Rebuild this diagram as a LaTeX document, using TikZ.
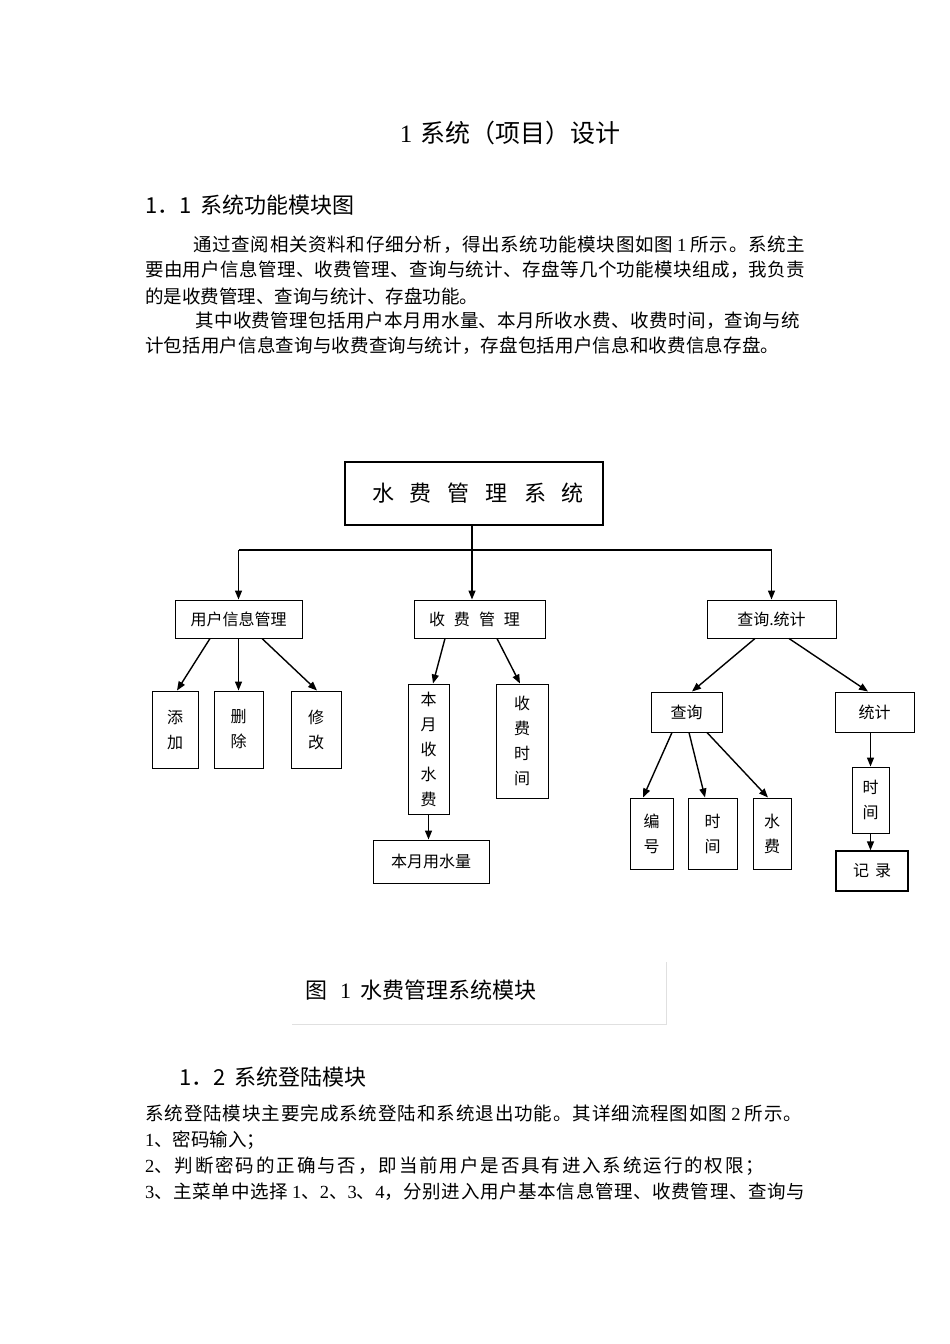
\documentclass[tikz,border=0pt]{standalone}
\usepackage{fontspec}
\setmainfont{Noto Sans CJK SC}
\newfontfamily\numfont{Liberation Serif}
\usetikzlibrary{arrows.meta}
\newcount\hanc
\hanc="4E00
\loop
  \XeTeXcharclass\hanc=1
  \advance\hanc by 1
\ifnum\hanc<"A000 \repeat
\XeTeXcharclass"3001=3 \XeTeXcharclass"3002=3
\XeTeXcharclass"FF0C=3 \XeTeXcharclass"FF1B=3
\XeTeXcharclass"FF09=3 \XeTeXcharclass"FF08=2
\XeTeXinterchartokenstate=1
\XeTeXinterchartoks 1 1={\hskip0pt plus 1fil}
\XeTeXinterchartoks 1 3={\hskip0pt plus 1fil}
\XeTeXinterchartoks 3 1={\hskip0pt plus 1fil}
\XeTeXinterchartoks 1 2={\hskip0pt plus 1fil}
\XeTeXinterchartoks 2 1={\hskip0pt plus 1fil}
\begin{document}
\begin{tikzpicture}[x=1pt, y=-1pt,
    box/.style={draw, line width=1pt, inner sep=0pt, align=center, font=\fontsize{16}{25}\selectfont},
    arr/.style={line width=1.4pt, -{Triangle[length=9pt,width=7pt]}},
    body/.style={anchor=west, inner sep=0pt, font=\fontsize{18.5}{22}\selectfont},
    head/.style={anchor=west, inner sep=0pt, font=\fontsize{22}{22}\selectfont}]
    \fill[white] (0,0) rectangle (950,1344);
    \useasboundingbox (0,0) rectangle (950,1344);
    % text of the page
    \node[inner sep=0pt, font=\fontsize{25}{25}\selectfont] (title) at (510,133) {{\numfont 1}\kern8pt 系统（项目）设计};
    \node[head] (h11) at (145,205) {1．1\kern9pt 系统功能模块图};
    \node[body] (p1a) at (193,245) {\makebox[612pt][s]{通过查阅相关资料和仔细分析，得出系统功能模块图如图 {\numfont 1} 所示。系统主}};
    \node[body] (p1b) at (145,270) {\makebox[660pt][s]{要由用户信息管理、收费管理、查询与统计、存盘等几个功能模块组成，我负责}};
    \node[body] (p1c) at (145,296) {的是收费管理、查询与统计、存盘功能。};
    \node[body] (p1d) at (195,321) {\makebox[605pt][s]{其中收费管理包括用户本月用水量、本月所收水费、收费时间，查询与统}};
    \node[body] (p1e) at (145,346) {\makebox[634pt][s]{计包括用户信息查询与收费查询与统计，存盘包括用户信息和收费信息存盘。}};
    % module chart
    \node[box, line width=1.8pt, minimum width=258pt, minimum height=63pt, font=\fontsize{22}{22}\selectfont] (sys) at (474,493.5)
        {\kern8pt 水\kern16pt 费\kern16pt 管\kern16pt 理\kern16pt 系\kern16pt 统};
    \node[box, minimum width=127pt, minimum height=38pt] (yhgl) at (238.5,619) {用户信息管理};
    \node[box, minimum width=131pt, minimum height=38pt] (sfgl) at (479.5,619) {收\kern9pt 费\kern9pt 管\kern9pt 理\kern10pt};
    \node[box, minimum width=129pt, minimum height=38pt] (cxtj) at (771.5,619) {查询.统计};
    \coordinate (bus) at (472,550);
    \draw[line width=1.4pt] (sys.south -| bus) -- (bus);
    \draw[line width=1.4pt] (yhgl.north |- bus) -- (cxtj.north |- bus);
    \draw[arr] (bus) -- (bus |- sfgl.north);
    \draw[arr] (yhgl.north |- bus) -- (yhgl.north);
    \draw[arr] (cxtj.north |- bus) -- (cxtj.north);

    \node[box, minimum width=46pt, minimum height=77pt] (tj) at (175,729.5) {添\\加};
    \node[box, minimum width=49pt, minimum height=77pt] (sc) at (238.5,729.5) {删\\除};
    \node[box, minimum width=50pt, minimum height=77pt] (xg) at (316,729.5) {修\\改};
    \draw[arr] ([xshift=-28.5pt]yhgl.south) -- ([xshift=2pt]tj.north);
    \draw[arr] (yhgl.south) -- (sc.north);
    \draw[arr] ([xshift=23.5pt]yhgl.south) -- ([xshift=1pt]xg.north);

    \node[box, minimum width=41pt, minimum height=130pt] (bysf) at (428.5,749) {本\\月\\收\\水\\费};
    \node[box, minimum width=52pt, minimum height=114pt] (sfsj) at (522,741) {收\\费\\时\\间};
    \node[box, minimum width=116pt, minimum height=43pt] (bysl) at (431,861.5) {本月用水量};
    \draw[arr] ([xshift=-34.5pt]sfgl.south) -- ([xshift=4.5pt]bysf.north);
    \draw[arr] ([xshift=17.5pt]sfgl.south) -- ([xshift=-2pt]sfsj.north);
    \draw[arr] (bysf.south) -- (bysf.south |- bysl.north);

    \node[box, minimum width=71pt, minimum height=40pt] (cx) at (686.5,712) {查询};
    \node[box, minimum width=79pt, minimum height=40pt] (tjj) at (874.5,712) {统计};
    \draw[arr] ([xshift=-16.5pt]cxtj.south) -- ([xshift=5.5pt]cx.north);
    \draw[arr] ([xshift=17.5pt]cxtj.south) -- ([xshift=-6.5pt]tjj.north);

    \node[box, minimum width=43pt, minimum height=71pt] (bh) at (651.5,833.5) {编\\号};
    \node[box, minimum width=49pt, minimum height=71pt] (sja) at (712.5,833.5) {时\\间};
    \node[box, minimum width=38pt, minimum height=71pt] (sf) at (772,833.5) {水\\费};
    \draw[arr] ([xshift=-14.5pt]cx.south) -- ([xshift=-8.5pt]bh.north);
    \draw[arr] ([xshift=2.5pt]cx.south) -- ([xshift=-7.5pt]sja.north);
    \draw[arr] ([xshift=20.5pt]cx.south) -- ([xshift=-4pt]sf.north);

    \node[box, minimum width=37pt, minimum height=66pt] (sjb) at (870.5,800) {时\\间};
    \node[box, line width=1.4pt, minimum width=72pt, minimum height=40pt] (jl) at (872,871) {记\kern6pt 录};
    \draw[arr] (tjj.south -| sjb.north) -- (sjb.north);
    \draw[arr] (sjb.south) -- (sjb.south |- jl.north);

    % caption
    \node[inner sep=0pt, anchor=west, font=\fontsize{22}{22}\selectfont] (cap) at (305,990)
        {图\kern13pt{\numfont 1}\kern9pt 水费管理系统模块};
    \draw[black!12, line width=1pt] (292,1024) -- (666,1024) -- (666,962);

    \node[head] (h12) at (179,1077) {1．2\kern9pt 系统登陆模块};
    \node[body] (p2a) at (145,1113) {\makebox[657pt][s]{系统登陆模块主要完成系统登陆和系统退出功能。其详细流程图如图 {\numfont 2} 所示。}};
    \node[body] (p2b) at (145,1140) {{\numfont 1}、密码输入；};
    \node[body] (p2c) at (145,1166) {\makebox[619pt][s]{{\numfont 2}、判断密码的正确与否，即当前用户是否具有进入系统运行的权限；}};
    \node[body] (p2d) at (145,1192) {\makebox[660pt][s]{{\numfont 3}、主菜单中选择 {\numfont 1}、{\numfont 2}、{\numfont 3}、{\numfont 4}，分别进入用户基本信息管理、收费管理、查询与}};
\end{tikzpicture}
\end{document}
